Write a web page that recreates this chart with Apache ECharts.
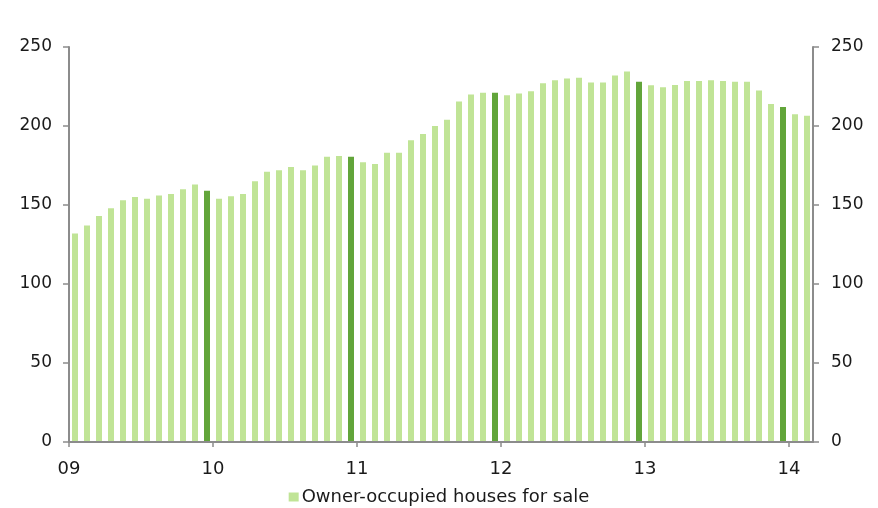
<!DOCTYPE html>
<html>
<head>
<meta charset="utf-8">
<script src="https://cdn.jsdelivr.net/npm/echarts@6/dist/echarts.min.js"></script>
<style>
html,body{margin:0;padding:0;background:#fff;}
#chart{width:878px;height:508px;}
</style>
</head>
<body>
<div id="chart"></div>
<script>
// Monthly categories Jan 2009 .. Feb 2014
const years = ['09','10','11','12','13','14'];
const monthNames = ['Jan','Feb','Mar','Apr','May','Jun','Jul','Aug','Sep','Oct','Nov','Dec'];
const categories = [];
for (let y = 0; y < years.length; y++) {
  for (let m = 0; m < 12; m++) {
    if (y === 5 && m > 1) break;
    categories.push(monthNames[m] + ' ' + years[y]);
  }
}
const seriesName = 'Owner-occupied houses for sale';
const values = [
  132, 137, 143, 148, 153, 155, 154, 156, 157, 160, 163, 159,
  154, 155.5, 157, 165, 171, 172, 174, 172, 175, 180.5, 181, 180.5,
  177, 176, 183, 183, 191, 195, 200, 204, 215.5, 220, 221, 221,
  219.5, 220.5, 222, 227, 229, 230, 230.5, 227.5, 227.5, 232, 234.5, 228,
  225.8, 224.5, 226, 228.5, 228.5, 229, 228.5, 228, 228, 222.5, 214, 212,
  207.5, 206.5
];
const yTicks = [0, 50, 100, 150, 200, 250];
const yearTickPositions = [0, 12, 24, 36, 48, 60];

const lightGreen = '#c0e496';
const darkGreen = '#62a53a';
const axisGray = '#8c8c8c';
const textColor = '#1a1a1a';
const fontFamily = '"DejaVu Sans", Verdana, sans-serif';

const barData = values.map((v, i) => ({
  value: v,
  itemStyle: { color: (i % 12 === 11) ? darkGreen : lightGreen }
}));

const chart = echarts.init(document.getElementById('chart'), null, {renderer: 'canvas'});
chart.setOption({
  animation: false,
  backgroundColor: '#fff',
  textStyle: { fontFamily: fontFamily },
  grid: { left: 69, right: 65, top: 47, bottom: 66, containLabel: false },
  legend: {
    top: 483,
    left: 'center',
    itemWidth: 10,
    itemHeight: 9,
    itemGap: 4,
    icon: 'rect',
    data: [{ name: seriesName, itemStyle: { color: lightGreen } }],
    textStyle: { fontFamily: fontFamily, fontSize: 18, color: textColor, padding: [0, 0, 0, -2] }
  },
  xAxis: [
    {
      type: 'category',
      data: categories,
      show: false,
      boundaryGap: true
    },
    {
      type: 'value',
      min: 0,
      max: categories.length,
      interval: 12,
      position: 'bottom',
      z: 5,
      splitLine: { show: false },
      axisLine: { show: true, onZero: false, lineStyle: { color: axisGray, width: 2 } },
      axisTick: { show: true, length: 5, lineStyle: { color: axisGray, width: 1.5 }, customValues: yearTickPositions },
      axisLabel: {
        customValues: yearTickPositions,
        formatter: v => years[Math.round(v / 12)] || '',
        fontSize: 18, color: textColor, fontFamily: fontFamily, margin: 18
      }
    }
  ],
  yAxis: [
    {
      type: 'value', min: 0, max: 250, interval: 50, position: 'left',
      z: 5,
      splitLine: { show: false },
      axisLine: { show: true, lineStyle: { color: axisGray, width: 2 } },
      axisTick: { show: true, length: 6, lineStyle: { color: axisGray, width: 1.5 } },
      axisLabel: { fontSize: 17, color: textColor, fontFamily: fontFamily, margin: 17 }
    },
    {
      type: 'value', min: 0, max: 250, interval: 50, position: 'right',
      z: 5,
      splitLine: { show: false },
      axisLine: { show: true, lineStyle: { color: axisGray, width: 2 } },
      axisTick: { show: true, length: 6, lineStyle: { color: axisGray, width: 1.5 } },
      axisLabel: { fontSize: 17, color: textColor, fontFamily: fontFamily, margin: 18 }
    }
  ],
  series: [
    {
      name: seriesName,
      type: 'bar',
      xAxisIndex: 0,
      yAxisIndex: 0,
      barWidth: 6,
      itemStyle: { color: lightGreen },
      data: barData
    }
  ]
});
</script>
</body>
</html>
